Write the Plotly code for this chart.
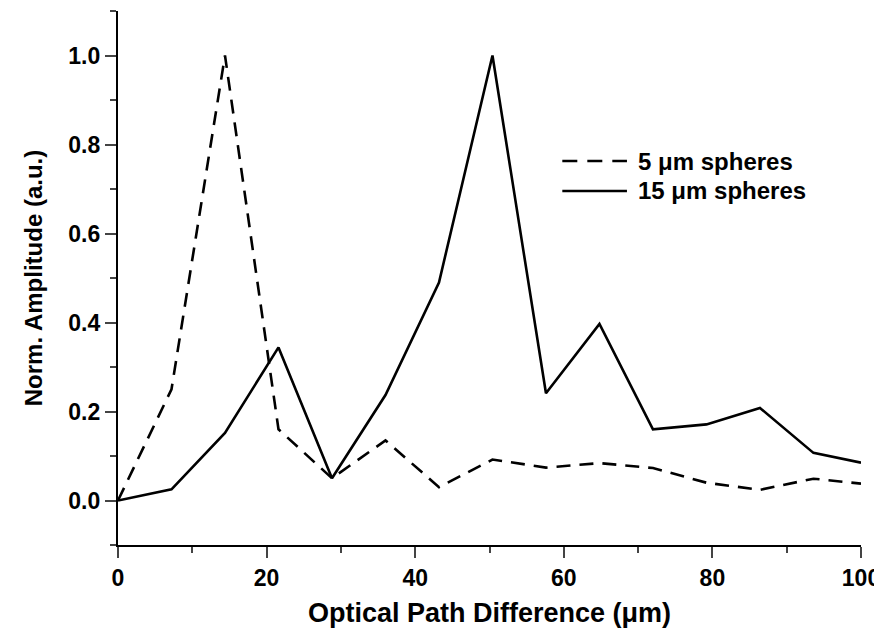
import plotly.graph_objects as go

opd = [0, 7.2, 14.4, 21.6, 28.8, 36.0, 43.2, 50.4, 57.6, 64.8, 72.0, 79.2, 86.4, 93.6, 100]
amp_5um = [0.0, 0.25, 1.0, 0.16, 0.05, 0.135, 0.03, 0.092, 0.074, 0.084, 0.073, 0.040, 0.024, 0.049, 0.038]
amp_15um = [0.0, 0.025, 0.152, 0.344, 0.05, 0.237, 0.49, 1.0, 0.241, 0.397, 0.160, 0.171, 0.208, 0.107, 0.085]

series_names = ["5 \u03bcm spheres", "15 \u03bcm spheres"]
y_ticks = [0.0, 0.2, 0.4, 0.6, 0.8, 1.0]
y_tick_text = ["0.0", "0.2", "0.4", "0.6", "0.8", "1.0"]
x_ticks = [0, 20, 40, 60, 80, 100]

FONT = "Liberation Sans, Arial, sans-serif"

fig = go.Figure()
fig.add_trace(go.Scatter(x=opd, y=amp_5um, mode="lines", name=series_names[0],
                         line=dict(color="black", width=2.6, dash="14px,9px"),
                         showlegend=False))
fig.add_trace(go.Scatter(x=opd, y=amp_15um, mode="lines", name=series_names[1],
                         line=dict(color="black", width=2.6),
                         showlegend=False))

# manual legend (paper coords)
leg_items = [(series_names[0], "15px,10px", 0.719), (series_names[1], "solid", 0.663)]
for name, dash, yp in leg_items:
    fig.add_shape(type="line", xref="paper", yref="paper",
                  x0=0.598, x1=0.685, y0=yp, y1=yp,
                  line=dict(color="black", width=2.6, dash=dash))
    fig.add_annotation(xref="paper", yref="paper", x=0.697, y=yp,
                       text=name, showarrow=False, xanchor="left", yanchor="middle",
                       font=dict(family=FONT, size=24, color="black", weight="bold"))

fig.update_layout(
    width=874, height=620,
    margin=dict(l=110, r=21, t=3, b=83),
    paper_bgcolor="white", plot_bgcolor="white",
    font=dict(family=FONT, size=23, color="black", weight="bold"),
    showlegend=False,
)
fig.update_xaxes(
    range=[0, 100], tickvals=x_ticks, ticks="outside", ticklen=11, tickwidth=2,
    showline=True, linewidth=2.2, linecolor="black", showgrid=False, zeroline=False,
    minor=dict(ticks="outside", ticklen=6, tickwidth=2, dtick=10, tick0=0, showgrid=False),
    title=dict(text="Optical Path Difference (\u03bcm)", standoff=15,
               font=dict(family=FONT, size=27, weight="bold")),
    tickfont=dict(family=FONT, size=23, weight="bold"),
    ticklabeloverflow="allow",
)
fig.update_yaxes(
    range=[-0.1, 1.1], tickvals=y_ticks, ticktext=y_tick_text, ticks="outside", ticklen=11, tickwidth=2,
    showline=True, linewidth=2.2, linecolor="black", showgrid=False, zeroline=False,
    minor=dict(ticks="outside", ticklen=6, tickwidth=2, dtick=0.1, tick0=-0.1, showgrid=False),
    title=dict(text="Norm. Amplitude (a.u.)", standoff=19,
               font=dict(family=FONT, size=24, weight="bold")),
    tickfont=dict(family=FONT, size=23, weight="bold"),
)

fig.write_html("out.html")
